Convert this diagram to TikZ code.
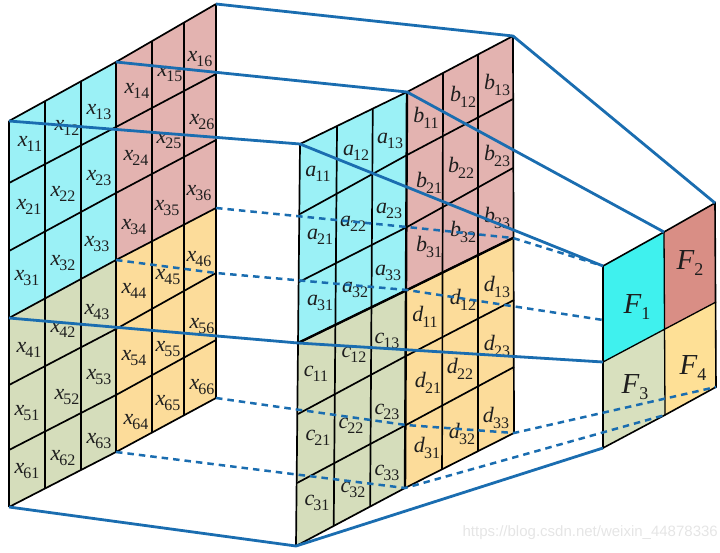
\documentclass[tikz,border=0pt]{standalone}
\usepackage{fontspec}
\setmainfont{Liberation Serif}
\newfontfamily\wmfont{Liberation Sans}
\usetikzlibrary{calc}
\definecolor{cy}{HTML}{9BF1F6}
\definecolor{pk}{HTML}{E3B3B0}
\definecolor{yl}{HTML}{FCDC9A}
\definecolor{gn}{HTML}{D5DDBB}
\definecolor{fa}{HTML}{3FF1EE}
\definecolor{fb}{HTML}{D98E85}
\definecolor{fc}{HTML}{D8E0BE}
\definecolor{fd}{HTML}{FEE096}
\definecolor{bl}{HTML}{1A6DB0}
\definecolor{ink}{HTML}{1E1E1E}
\newcommand{\cellname}[2]{\fontsize{22}{22}\selectfont\textit{#1}\kern-0.5pt\raisebox{-5.5pt}{\fontsize{16}{16}\selectfont\kern-0.5pt#2}}
\newcommand{\bigname}[2]{\fontsize{29}{29}\selectfont\textit{#1}\raisebox{-6pt}{\fontsize{18}{18}\selectfont #2}}
\tikzset{
  lab/.style={inner sep=0pt,text=ink},
  grid/.style={draw=black,line width=1.7pt,line join=miter},
  bold/.style={draw=black,line width=2.4pt},
  solidlink/.style={draw=bl,line width=2.8pt,line join=round},
  dashlink/.style={draw=bl,line width=2.5pt,dash pattern=on 6.5pt off 5pt},
}
\begin{document}
\begin{tikzpicture}[x=1pt,y=-1pt]
\useasboundingbox (0,0) rectangle (720,552);
% left block coordinates
\foreach \i/\pa/\pb/\pc in {0/121/62/4,1/183/127/74,2/251/193/140,3/318/260/208,4/385/329/273,5/450/395/340,6/507/452/398}{
  \coordinate (xL\i) at (9,\pa);
  \coordinate (xM\i) at (116,\pb);
  \coordinate (xR\i) at (216,\pc);
}
% middle block coordinates
\foreach \i/\qa/\pa/\qb/\pb/\qc/\pc in {0/300/144/407/92/513/36,1/300/214/407/155/513/99,2/299/282/407/227/513/168,3/298/343/407/290/513/238,4/298/414/406/356/514/300,5/297/483/406/425/514/367,6/296/546/405/488/514/433}{
  \coordinate (mL\i) at (\qa,\pa);
  \coordinate (mM\i) at (\qb,\pb);
  \coordinate (mR\i) at (\qc,\pc);
}
% right block coordinates
\coordinate (fL0) at (603,266); \coordinate (fM0) at (664,232); \coordinate (fR0) at (715,203);
\coordinate (fL1) at (603,362); \coordinate (fM1) at (665,329); \coordinate (fR1) at (716,302);
\coordinate (fL2) at (603,448); \coordinate (fM2) at (665,415); \coordinate (fR2) at (716,387);
\coordinate (fL3) at (603,320);
\coordinate (mV1) at (513,238);
% fills
\foreach \b in {x,m}{
  \fill[cy] (\b L0)--(\b M0)--(\b M3)--(\b L3)--cycle;
  \fill[pk] (\b M0)--(\b R0)--(\b R3)--(\b M3)--cycle;
  \fill[gn] (\b L3)--(\b M3)--(\b M6)--(\b L6)--cycle;
  \fill[yl] (\b M3)--(\b R3)--(\b R6)--(\b M6)--cycle;
}
\fill[fa] (fL0)--(fM0)--(fM1)--(fL1)--cycle;
\fill[fb] (fM0)--(fR0)--(fR1)--(fM1)--cycle;
\fill[fc] (fL1)--(fM1)--(fM2)--(fL2)--cycle;
\fill[fd] (fM1)--(fR1)--(fR2)--(fM2)--cycle;
% grids
\foreach \b in {x,m}{
  \foreach \i in {0,...,6}{
    \draw[grid] (\b L\i)--(\b M\i)--(\b R\i);
  }
  \draw[grid] (\b L0)--(\b L6);
  \draw[grid] (\b R0)--(\b R6);
  \draw[bold] (\b M0)--(\b M6);
}
\foreach \f in {0.336,0.673}{
  \draw[grid] ($(xL0)!\f!(xM0)$)--($(xL6)!\f!(xM6)$);
}
\foreach \f in {0.36,0.68}{
  \draw[grid] ($(xM0)!\f!(xR0)$)--($(xM6)!\f!(xR6)$);
}
\foreach \f in {0.346,0.68}{
  \draw[grid] ($(mL0)!\f!(mM0)$)--($(mL6)!\f!(mM6)$);
}
\foreach \f in {0.34,0.67}{
  \draw[grid] ($(mM0)!\f!(mR0)$)--($(mM6)!\f!(mR6)$);
}
\draw[bold] (mL3)--(mM3)--(mR3);
\draw[draw=black,line width=1.6pt] (fL0)--(fM0)--(fR0)--(fR2)--(fM2)--(fL2)--cycle;
\draw[draw=black,line width=1.3pt] (fL1)--(fM1)--(fR1) (fM0)--(fM2);
% labels
\foreach \s/\px/\py in {
 11/30/144,12/67/128,13/99/112,14/137/91,15/170/74,16/200/59,
 21/29/207,22/63/194,23/99/178,24/136/158,25/169/141,26/202/122,
 31/27/278,32/63/263,33/97/244,34/134/227,35/167/208,36/199/193,
 41/29/350,42/63/330,43/97/312,44/134/291,45/168/277,46/199/259,
 51/27/413,52/67/397,53/99/377,54/134/358,55/168/349,56/202/326,
 61/27/471,62/63/458,63/99/441,64/136/422,65/168/403,66/202/387}{
  \node[lab] (x\s) at (\px,\py) {\cellname{x}{\s}};
}
\foreach \t/\s/\px/\py in {
 a/11/318/174,a/12/356/153,a/13/390/141,b/11/426/118,b/12/463/97,b/13/497/85,
 a/21/320/237,a/22/353/224,a/23/389/211,b/21/429/183,b/22/461/168,b/23/497/156,
 a/31/320/303,a/32/355/290,a/33/388/273,b/31/429/247,b/32/463/232,b/33/497/218,
 c/11/316/374,c/12/354/355,c/13/387/341,d/11/425/317,d/12/463/300,d/13/497/287,
 c/21/318/438,c/22/351/426,c/23/387/412,d/21/428/383,d/22/460/369,d/23/497/346,
 c/31/317/503,c/32/353/490,c/33/387/473,d/31/427/448,d/32/462/434,d/33/496/418}{
  \node[lab] (\t\s) at (\px,\py) {\cellname{\t}{\s}};
}
\node[lab] (F1) at (637,307) {\bigname{F}{1}};
\node[lab] (F2) at (690,263) {\bigname{F}{2}};
\node[lab] (F3) at (635,387) {\bigname{F}{3}};
\node[lab] (F4) at (693,368) {\bigname{F}{4}};
% links
\draw[solidlink] (xR0)--(mR0)--(fR0);
\draw[solidlink] (xM0)--(mM0)--(fM0);
\draw[solidlink] (xL0)--(mL0)--(fL0);
\draw[solidlink] (xL3)--(mL3)--(fL1);
\draw[solidlink] (xL6)--(mL6)--(fL2);
\draw[dashlink] (xR3)--(mM2)--(mV1)--(fL0);
\draw[dashlink] (xM3)--(xR4)--(mM3)--(fL3);
\draw[dashlink] (xR6)--(mM5)--(mR6)--(fR2);
\draw[dashlink] (xM6)--(mM6)--(fM2);
% watermark
\node[lab,text=black!10,font=\wmfont\fontsize{15}{15}\selectfont,anchor=east] (wm) at (718,533) {https://blog.csdn.net/weixin\_44878336};
\end{tikzpicture}
\end{document}
